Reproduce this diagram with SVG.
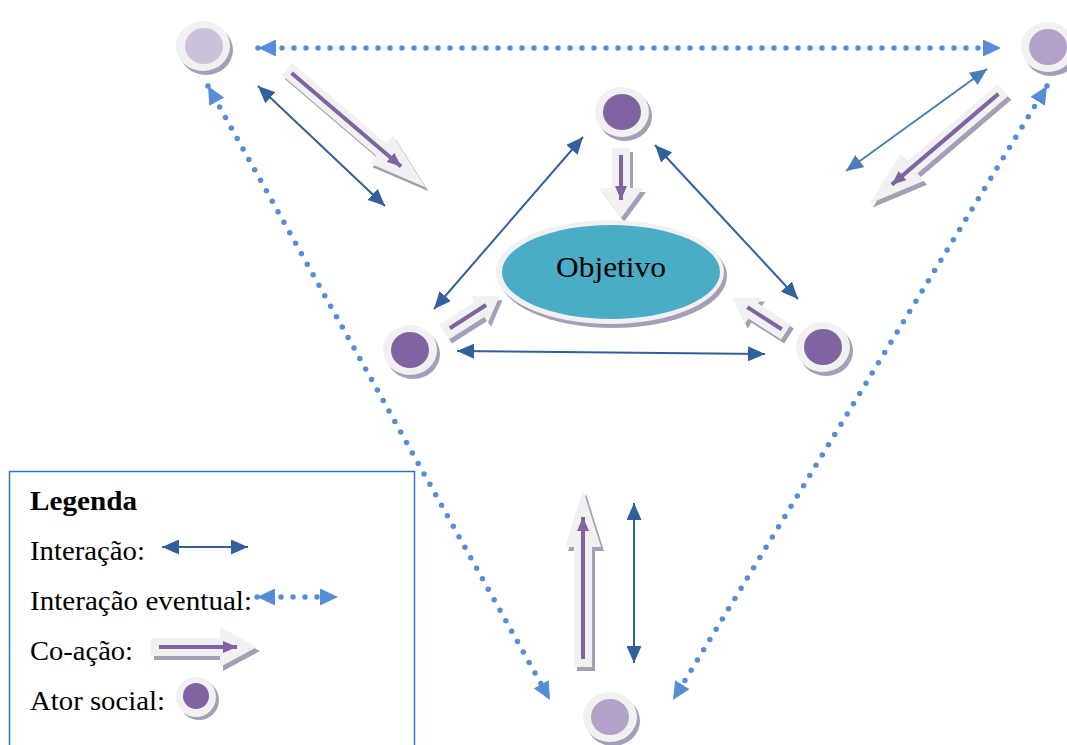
<svg xmlns="http://www.w3.org/2000/svg" width="1067" height="745" viewBox="0 0 1067 745">
  <style>
    .txt { font-family: "Liberation Serif", "Times New Roman", serif; fill: #000; }
    .leg { font-size: 28px; }
    .inter { stroke: #31609A; stroke-width: 2; fill: none; }
    .inter-lt { stroke: #4A7EBB; stroke-width: 2; fill: none; }
    .evt { stroke: #558ED5; stroke-width: 5.5; stroke-linecap: round; stroke-dasharray: 0 12; fill: none; }
    .body { fill: #F1F1F1; }
    .sh { fill: #A69EB6; }
    .ring { fill: #F1F1F1; }
    .purple-line { stroke: #8064A2; stroke-width: 4; fill: none; }
    .actor { fill: #8064A2; }
    .actor-lt1 { fill: #CCC1DA; }
    .actor-lt2 { fill: #B3A2C7; }
  </style>
  <defs>
    <marker id="m-inter" markerUnits="userSpaceOnUse" markerWidth="17" markerHeight="15" refX="17" refY="7.5" orient="auto-start-reverse">
      <path d="M0,0 L17,7.5 L0,15 Z" fill="#31609A"/>
    </marker>
    <marker id="m-inter-lt" markerUnits="userSpaceOnUse" markerWidth="17" markerHeight="15" refX="17" refY="7.5" orient="auto-start-reverse">
      <path d="M0,0 L17,7.5 L0,15 Z" fill="#4A7EBB"/>
    </marker>
    <marker id="m-evt" markerUnits="userSpaceOnUse" markerWidth="18" markerHeight="17" refX="18" refY="8.5" orient="auto-start-reverse">
      <path d="M0,0 L18,8.5 L0,17 Z" fill="#558ED5"/>
    </marker>
    <marker id="m-co" markerUnits="userSpaceOnUse" markerWidth="14" markerHeight="12" refX="14" refY="6" orient="auto">
      <path d="M0,0 L14,6 L0,12 Z" fill="#8064A2"/>
    </marker>
    <!-- block arrow outlines, tail at origin, pointing along +x -->
    <path id="ca-tl" d="M0,-8 H124 V-18 L182,0 L124,18 V8 H0 Z"/>
    <path id="ca-tr" d="M0,-8 H119 V-18 L175,0 L119,18 V8 H0 Z"/>
    <path id="ca-tc" d="M0,-9 H40 V-22 L70,0 L40,22 V9 H0 Z"/>
    <path id="ca-lm" d="M0,-9 H42 V-16 L66,0 L42,16 V9 H0 Z"/>
    <path id="ca-rm" d="M0,-9 H39 V-16 L63,0 L39,16 V9 H0 Z"/>
    <path id="ca-b" d="M0,-9 H120 V-18 L177,0 L120,18 V9 H0 Z"/>
    <path id="ca-leg" d="M0,-9 H69 V-20 L106,0 L69,20 V9 H0 Z"/>
  </defs>

  <rect width="1067" height="745" fill="#FFFFFF"/>

  <!-- connectors -->
  <g id="connectors">
    <!-- eventual interactions (dotted) -->
    <line class="evt" x1="258" y1="48" x2="1001" y2="48" marker-start="url(#m-evt)" marker-end="url(#m-evt)"/>
    <line class="evt" x1="208" y1="86" x2="550" y2="700" marker-start="url(#m-evt)" marker-end="url(#m-evt)"/>
    <line class="evt" x1="1047" y1="86" x2="673" y2="700" marker-start="url(#m-evt)" marker-end="url(#m-evt)"/>

    <!-- interactions -->
    <line class="inter" x1="258" y1="86" x2="385" y2="206" marker-start="url(#m-inter)" marker-end="url(#m-inter)"/>
    <line class="inter-lt" x1="987" y1="69" x2="846" y2="171" marker-start="url(#m-inter-lt)" marker-end="url(#m-inter-lt)"/>
    <line class="inter" x1="583" y1="137" x2="434" y2="309" marker-start="url(#m-inter)" marker-end="url(#m-inter)"/>
    <line class="inter" x1="655" y1="145" x2="798" y2="299" marker-start="url(#m-inter)" marker-end="url(#m-inter)"/>
    <line class="inter" x1="457" y1="351" x2="765" y2="354" marker-start="url(#m-inter)" marker-end="url(#m-inter)"/>
    <line class="inter" x1="634" y1="503" x2="634" y2="663" marker-start="url(#m-inter)" marker-end="url(#m-inter)"/>

    <!-- co-actions (block arrows) -->
    <g id="coaction-tl">
      <use href="#ca-tl" class="sh" transform="translate(3,4) translate(287,69) rotate(40.5)"/>
      <use href="#ca-tl" class="body" transform="translate(287,69) rotate(40.5)"/>
      <line class="purple-line" x1="6" y1="0" x2="150" y2="0" transform="translate(287,69) rotate(40.5)" marker-end="url(#m-co)"/>
    </g>
    <g id="coaction-tr">
      <use href="#ca-tr" class="sh" transform="translate(3,4) translate(1003,90) rotate(139.6)"/>
      <use href="#ca-tr" class="body" transform="translate(1003,90) rotate(139.6)"/>
      <line class="purple-line" x1="6" y1="0" x2="146" y2="0" transform="translate(1003,90) rotate(139.6)" marker-end="url(#m-co)"/>
    </g>
    <g id="coaction-tc">
      <use href="#ca-tc" class="sh" transform="translate(3,4) translate(621,148) rotate(90)"/>
      <use href="#ca-tc" class="body" transform="translate(621,148) rotate(90)"/>
      <line class="purple-line" x1="7" y1="0" x2="52" y2="0" transform="translate(621,148) rotate(90)" marker-end="url(#m-co)"/>
    </g>
    <g id="coaction-lm">
      <use href="#ca-lm" class="sh" transform="translate(3,4) translate(444,332) rotate(-32.7)"/>
      <use href="#ca-lm" class="body" transform="translate(444,332) rotate(-32.7)"/>
      <line class="purple-line" x1="7" y1="0" x2="50" y2="0" transform="translate(444,332) rotate(-32.7)"/>
    </g>
    <g id="coaction-rm">
      <use href="#ca-rm" class="sh" transform="translate(3,4) translate(786,332) rotate(-147.3)"/>
      <use href="#ca-rm" class="body" transform="translate(786,332) rotate(-147.3)"/>
      <line class="purple-line" x1="5" y1="0" x2="46" y2="0" transform="translate(786,332) rotate(-147.3)"/>
    </g>
    <g id="coaction-b">
      <use href="#ca-b" class="sh" transform="translate(3,4) translate(583,667) rotate(-90)"/>
      <use href="#ca-b" class="body" transform="translate(583,667) rotate(-90)"/>
      <line class="purple-line" x1="8" y1="0" x2="150" y2="0" transform="translate(583,667) rotate(-90)" marker-end="url(#m-co)"/>
    </g>
  </g>

  <!-- goal -->
  <g id="objetivo">
    <ellipse cx="613" cy="276" rx="114" ry="52" class="sh"/>
    <ellipse cx="610" cy="272" rx="114" ry="52" class="ring"/>
    <ellipse cx="611" cy="272" rx="109" ry="47" fill="#4BACC6"/>
    <text x="611" y="277" class="txt" font-size="30" text-anchor="middle" textLength="110" lengthAdjust="spacingAndGlyphs">Objetivo</text>
  </g>

  <!-- social actors -->
  <g id="actor-tl">
    <ellipse cx="206" cy="50" rx="27" ry="25" class="sh"/>
    <ellipse cx="203" cy="46" rx="27" ry="25" class="ring"/>
    <ellipse cx="204" cy="46" rx="19" ry="18" class="actor-lt1"/>
  </g>
  <g id="actor-tr">
    <ellipse cx="1051" cy="51" rx="27" ry="25" class="sh"/>
    <ellipse cx="1048" cy="47" rx="27" ry="25" class="ring"/>
    <ellipse cx="1048" cy="47" rx="19" ry="18" class="actor-lt2"/>
  </g>
  <g id="actor-tc">
    <ellipse cx="625" cy="116" rx="27" ry="25" class="sh"/>
    <ellipse cx="622" cy="112" rx="27" ry="25" class="ring"/>
    <ellipse cx="622" cy="112" rx="19" ry="18" class="actor"/>
  </g>
  <g id="actor-lm">
    <ellipse cx="413" cy="354" rx="27" ry="25" class="sh"/>
    <ellipse cx="410" cy="350" rx="27" ry="25" class="ring"/>
    <ellipse cx="410" cy="350" rx="19" ry="18" class="actor"/>
  </g>
  <g id="actor-rm">
    <ellipse cx="826" cy="351" rx="27" ry="25" class="sh"/>
    <ellipse cx="823" cy="347" rx="27" ry="25" class="ring"/>
    <ellipse cx="823" cy="347" rx="19" ry="18" class="actor"/>
  </g>
  <g id="actor-b">
    <ellipse cx="613" cy="721" rx="27" ry="25" class="sh"/>
    <ellipse cx="610" cy="717" rx="27" ry="25" class="ring"/>
    <ellipse cx="610" cy="717" rx="19" ry="18" class="actor-lt2"/>
  </g>

  <!-- legend -->
  <g id="legenda">
    <rect x="9.5" y="471.5" width="405" height="285" fill="#FFFFFF" stroke="#2E75C6" stroke-width="1.5"/>
    <text x="30" y="510" class="txt leg" font-weight="bold" textLength="107" lengthAdjust="spacingAndGlyphs">Legenda</text>
    <text x="30" y="560" class="txt leg" textLength="115" lengthAdjust="spacingAndGlyphs">Interação:</text>
    <line class="inter" x1="162" y1="547" x2="248" y2="547" marker-start="url(#m-inter)" marker-end="url(#m-inter)"/>
    <text x="30" y="610" class="txt leg" textLength="222" lengthAdjust="spacingAndGlyphs">Interação eventual:</text>
    <line class="evt" x1="257" y1="597" x2="338" y2="597" marker-start="url(#m-evt)" marker-end="url(#m-evt)"/>
    <text x="30" y="660" class="txt leg" textLength="103" lengthAdjust="spacingAndGlyphs">Co-ação:</text>
    <use href="#ca-leg" class="sh" transform="translate(3,4) translate(151,647)"/>
    <use href="#ca-leg" class="body" transform="translate(151,647)"/>
    <line class="purple-line" x1="8" y1="0" x2="86" y2="0" transform="translate(151,647)" marker-end="url(#m-co)"/>
    <text x="30" y="710" class="txt leg" textLength="135" lengthAdjust="spacingAndGlyphs">Ator social:</text>
    <ellipse cx="199" cy="700" rx="20" ry="20" class="sh"/>
    <ellipse cx="196" cy="697" rx="20" ry="20" class="ring"/>
    <ellipse cx="196" cy="696" rx="13" ry="13" class="actor"/>
  </g>
</svg>
